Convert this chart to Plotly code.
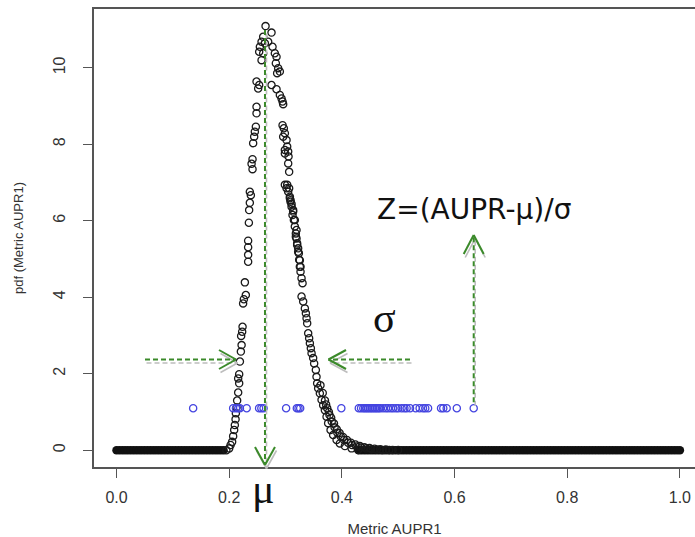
import plotly.graph_objects as go

# ---------------- data ----------------
# density curve points (steep part) : x = Metric AUPR1, y = pdf
curve_x = [0.195, 0.200, 0.2024, 0.2052, 0.207, 0.2088, 0.210, 0.2113, 0.2118, 0.213,
           0.2141, 0.2159, 0.2177, 0.2159, 0.2177, 0.219, 0.2207, 0.222, 0.2212, 0.223,
           0.2237, 0.2247, 0.226, 0.2295, 0.2278, 0.2336, 0.2336, 0.2336, 0.2336, 0.2349,
           0.2354, 0.2366, 0.2384, 0.2366, 0.2414, 0.2397, 0.2414, 0.2425, 0.2443, 0.2455,
           0.2473, 0.2485, 0.2485, 0.2514, 0.2532, 0.2485, 0.2532, 0.2544, 0.2574, 0.2574,
           0.2603, 0.2603, 0.2633, 0.2645, 0.2692, 0.2751, 0.2769, 0.2810, 0.2840, 0.2828,
           0.2869, 0.2899, 0.2851, 0.2751, 0.2840, 0.2899, 0.2929, 0.2947, 0.2958, 0.2947,
           0.2970, 0.2988, 0.2958, 0.3018, 0.3029, 0.2988, 0.3047, 0.2988, 0.3053, 0.3047,
           0.3064, 0.2988, 0.3018, 0.3047, 0.3077, 0.3089, 0.3107, 0.3135, 0.3124, 0.3148,
           0.3165, 0.3183, 0.3195, 0.3206, 0.3224, 0.3236, 0.3254, 0.3266, 0.3029, 0.3064,
           0.3077, 0.3089, 0.3107, 0.3135, 0.3165, 0.3195, 0.3183, 0.3206, 0.3224, 0.3242,
           0.3254, 0.3266, 0.3284, 0.3302, 0.3284, 0.3313, 0.3343, 0.3361, 0.3373, 0.3384,
           0.3402, 0.3419, 0.3432, 0.3449, 0.3462, 0.3490, 0.3508, 0.3538, 0.3550, 0.3561,
           0.3579, 0.3609, 0.3639, 0.3668, 0.3698, 0.3728, 0.3756, 0.3799, 0.3845, 0.3906,
           0.3964, 0.4053, 0.4172, 0.4289, 0.3620, 0.3660, 0.3700, 0.3740, 0.3780, 0.3820,
           0.3870, 0.3920, 0.3980, 0.4040, 0.4110, 0.4180, 0.4260, 0.4340, 0.4430, 0.4520,
           0.4620, 0.4720, 0.4840, 0.3720, 0.3770, 0.3810, 0.3860, 0.3910, 0.3960, 0.4020,
           0.4090, 0.4160, 0.4240, 0.4320, 0.4400, 0.4490, 0.4580, 0.4680, 0.4780, 0.4900,
           0.5000]
curve_y = [0.00, 0.05, 0.14, 0.22, 0.37, 0.53, 0.66, 0.81, 0.97, 1.12,
           1.30, 1.51, 1.75, 1.88, 1.99, 2.32, 2.58, 2.75, 2.99, 3.10,
           3.23, 3.84, 3.95, 4.06, 4.39, 4.93, 5.11, 5.31, 5.48, 5.95,
           6.28, 6.47, 6.67, 6.76, 7.35, 7.49, 7.61, 8.03, 8.20, 8.33,
           8.46, 8.81, 8.98, 9.46, 9.55, 9.64, 10.42, 10.55, 10.20, 10.68,
           10.38, 10.81, 10.64, 11.09, 10.68, 10.92, 10.55, 10.38, 10.29, 10.12,
           9.99, 9.90, 9.86, 9.55, 9.44, 9.29, 9.20, 9.12, 9.05, 8.50,
           8.42, 8.29, 8.20, 8.11, 7.94, 7.85, 7.81, 7.76, 7.68, 7.50,
           7.28, 6.94, 6.85, 6.76, 6.63, 6.54, 6.44, 6.28, 6.15, 6.02,
           5.85, 5.67, 5.54, 5.41, 5.28, 5.15, 4.97, 4.80, 6.94, 6.85,
           6.59, 6.50, 6.37, 6.24, 6.02, 5.76, 5.58, 5.37, 5.19, 4.98,
           4.80, 4.67, 4.50, 4.37, 4.02, 3.89, 3.71, 3.58, 3.45, 3.32,
           3.06, 2.93, 2.80, 2.67, 2.54, 2.41, 2.27, 2.10, 1.92, 1.75,
           1.62, 1.49, 1.32, 1.18, 1.05, 0.88, 0.71, 0.53, 0.40, 0.27,
           0.18, 0.11, 0.05, 0.01, 1.70, 1.50, 1.30, 1.10, 0.92, 0.75,
           0.60, 0.46, 0.36, 0.27, 0.20, 0.14, 0.10, 0.07, 0.05, 0.03,
           0.02, 0.01, 0.005, 1.20, 1.00, 0.85, 0.70, 0.55, 0.45, 0.35,
           0.27, 0.20, 0.15, 0.11, 0.08, 0.06, 0.04, 0.03, 0.02, 0.01,
           0.01]

# flat parts of the density (pdf ~ 0)
flat_left_x = [0.000, 0.005, 0.010, 0.015, 0.020, 0.025, 0.030, 0.035, 0.040, 0.045,
               0.050, 0.055, 0.060, 0.065, 0.070, 0.075, 0.080, 0.085, 0.090, 0.095,
               0.100, 0.105, 0.110, 0.115, 0.120, 0.125, 0.130, 0.135, 0.140, 0.145,
               0.150, 0.155, 0.160, 0.165, 0.170, 0.175, 0.180, 0.185, 0.190]
flat_right_x = [0.430, 0.435, 0.440, 0.445, 0.450, 0.455, 0.460, 0.465, 0.470, 0.475,
                0.480, 0.485, 0.490, 0.495, 0.500, 0.505, 0.510, 0.515, 0.520, 0.525,
                0.530, 0.535, 0.540, 0.545, 0.550, 0.555, 0.560, 0.565, 0.570, 0.575,
                0.580, 0.585, 0.590, 0.595, 0.600, 0.605, 0.610, 0.615, 0.620, 0.625,
                0.630, 0.635, 0.640, 0.645, 0.650, 0.655, 0.660, 0.665, 0.670, 0.675,
                0.680, 0.685, 0.690, 0.695, 0.700, 0.705, 0.710, 0.715, 0.720, 0.725,
                0.730, 0.735, 0.740, 0.745, 0.750, 0.755, 0.760, 0.765, 0.770, 0.775,
                0.780, 0.785, 0.790, 0.795, 0.800, 0.805, 0.810, 0.815, 0.820, 0.825,
                0.830, 0.835, 0.840, 0.845, 0.850, 0.855, 0.860, 0.865, 0.870, 0.875,
                0.880, 0.885, 0.890, 0.895, 0.900, 0.905, 0.910, 0.915, 0.920, 0.925,
                0.930, 0.935, 0.940, 0.945, 0.950, 0.955, 0.960, 0.965, 0.970, 0.975,
                0.980, 0.985, 0.990, 0.995, 1.000]
flat_value = 0.0

# observed AUPR values (blue circles), drawn at a fixed height
obs_x = [0.136, 0.207, 0.212, 0.216, 0.219, 0.231, 0.253, 0.257, 0.261, 0.301,
         0.320, 0.323, 0.326, 0.399, 0.430, 0.434, 0.438, 0.441, 0.444, 0.447,
         0.450, 0.453, 0.456, 0.459, 0.462, 0.465, 0.468, 0.473, 0.478, 0.482,
         0.487, 0.491, 0.496, 0.500, 0.506, 0.511, 0.515, 0.521, 0.531, 0.538,
         0.544, 0.548, 0.553, 0.576, 0.580, 0.586, 0.604, 0.634]
obs_level = 1.1

x_ticks = [0.0, 0.2, 0.4, 0.6, 0.8, 1.0]
x_tick_text = ["0.0", "0.2", "0.4", "0.6", "0.8", "1.0"]
y_ticks = [0, 2, 4, 6, 8, 10]
y_tick_text = ["0", "2", "4", "6", "8", "10"]

mu_value = 0.2635

# ---------------- layout geometry ----------------
W, H = 695, 537
ML, MR, MT, MB = 94, 0, 9, 70
XR = [-0.04, 1.0268]
YR = [-0.437, 11.537]
PW, PH = W - ML - MR, H - MT - MB
SX = PW / (XR[1] - XR[0])
SY = PH / (YR[1] - YR[0])


def px(xv):
    return (xv - ML) / PW


def py(yv):
    return 1 - (yv - MT) / PH


def dx2px(xd):
    return ML + (xd - XR[0]) * SX


def dy2px(yd):
    return MT + (YR[1] - yd) * SY


GREEN = "#3b8a2a"
SHADOW = "#bdbdbd"
FONT = "Liberation Sans, Arial, sans-serif"

fig = go.Figure()

fig.add_trace(go.Scatter(
    x=flat_left_x + flat_right_x,
    y=[flat_value] * (len(flat_left_x) + len(flat_right_x)),
    mode="markers",
    marker=dict(symbol="circle", size=8.5, color="#111111", line=dict(width=0)),
    hoverinfo="skip", showlegend=False))

fig.add_trace(go.Scatter(
    x=curve_x, y=curve_y, mode="markers",
    marker=dict(symbol="circle-open", size=7.2, color="#1a1a1a",
                line=dict(width=1.3, color="#1a1a1a")),
    showlegend=False))

fig.add_trace(go.Scatter(
    x=obs_x, y=[obs_level] * len(obs_x), mode="markers",
    marker=dict(symbol="circle-open", size=7.2, color="#4444e0",
                line=dict(width=1.3, color="#4444e0")),
    showlegend=False))

shapes = []


def seg(x0, y0, x1, y1, color, width, dash=None):
    d = dict(type="line", xref="paper", yref="paper",
             x0=px(x0), y0=py(y0), x1=px(x1), y1=py(y1),
             line=dict(color=color, width=width))
    if dash:
        d["line"]["dash"] = dash
    shapes.append(d)


def arrow(x0, y0, x1, y1, arms):
    ox, oy = 1.5, 3.5
    seg(x0 + ox, y0 + oy, x1 + ox, y1 + oy, SHADOW, 1.6, "5px,3px")
    for ax, ay in arms:
        seg(x1 + ox, y1 + oy, ax + ox, ay + oy, SHADOW, 1.6)
    seg(x0, y0, x1, y1, GREEN, 2, "5px,3px")
    for ax, ay in arms:
        seg(x1, y1, ax, ay, GREEN, 2)


mu_px = dx2px(mu_value)
arrow(mu_px, 30, mu_px, 465, [(mu_px - 10, 447), (mu_px + 10, 447)])
arrow(145, 359.5, 236, 359.5, [(219, 350), (219, 369)])
arrow(410, 359.5, 328.5, 359.5, [(346, 350), (346, 369)])
z_px = dx2px(obs_x[-1])
arrow(z_px, dy2px(obs_level) - 6, z_px, 235, [(z_px - 10, 254), (z_px + 10, 254)])

SERIF = "Liberation Serif, Times New Roman, serif"
annotations = [
    dict(text="σ", x=px(384), y=py(318), xref="paper", yref="paper",
         xanchor="center", yanchor="middle",
         showarrow=False, font=dict(family=SERIF, size=42, color="#111")),
    dict(text="μ", x=px(mu_px - 1), y=py(489), xref="paper", yref="paper",
         xanchor="center", yanchor="middle",
         showarrow=False, font=dict(family=SERIF, size=42, color="#111")),
    dict(text="Z=(AUPR-μ)/σ", x=px(z_px), y=py(209), xref="paper", yref="paper",
         xanchor="center", yanchor="middle",
         showarrow=False, font=dict(family="DejaVu Sans, sans-serif", size=28, color="#111")),
]

fig.update_layout(
    width=W, height=H,
    margin=dict(l=ML, r=MR, t=MT, b=MB, pad=0),
    paper_bgcolor="white", plot_bgcolor="white",
    shapes=shapes, annotations=annotations,
    showlegend=False,
    xaxis=dict(range=XR, tickvals=x_ticks, ticktext=x_tick_text,
               showgrid=False, zeroline=False,
               showline=True, linecolor="#555", linewidth=1.5, mirror=True,
               ticks="outside", ticklen=9, tickwidth=1.3, tickcolor="#555",
               tickfont=dict(family=FONT, size=16, color="#333"),
               ticklabelstandoff=6,
               title=dict(text="Metric AUPR1", font=dict(family=FONT, size=15, color="#333"),
                          standoff=21)),
    yaxis=dict(range=YR, tickvals=y_ticks, ticktext=y_tick_text,
               showgrid=False, zeroline=False,
               showline=True, linecolor="#555", linewidth=1.5, mirror=False,
               ticks="outside", ticklen=9, tickwidth=1.3, tickcolor="#555",
               tickangle=-90,
               tickfont=dict(family=FONT, size=16, color="#333"),
               ticklabelstandoff=12,
               title=dict(text="pdf (Metric AUPR1)", font=dict(family=FONT, size=13, color="#333"),
                          standoff=24)),
)

fig.write_html("out.html")
